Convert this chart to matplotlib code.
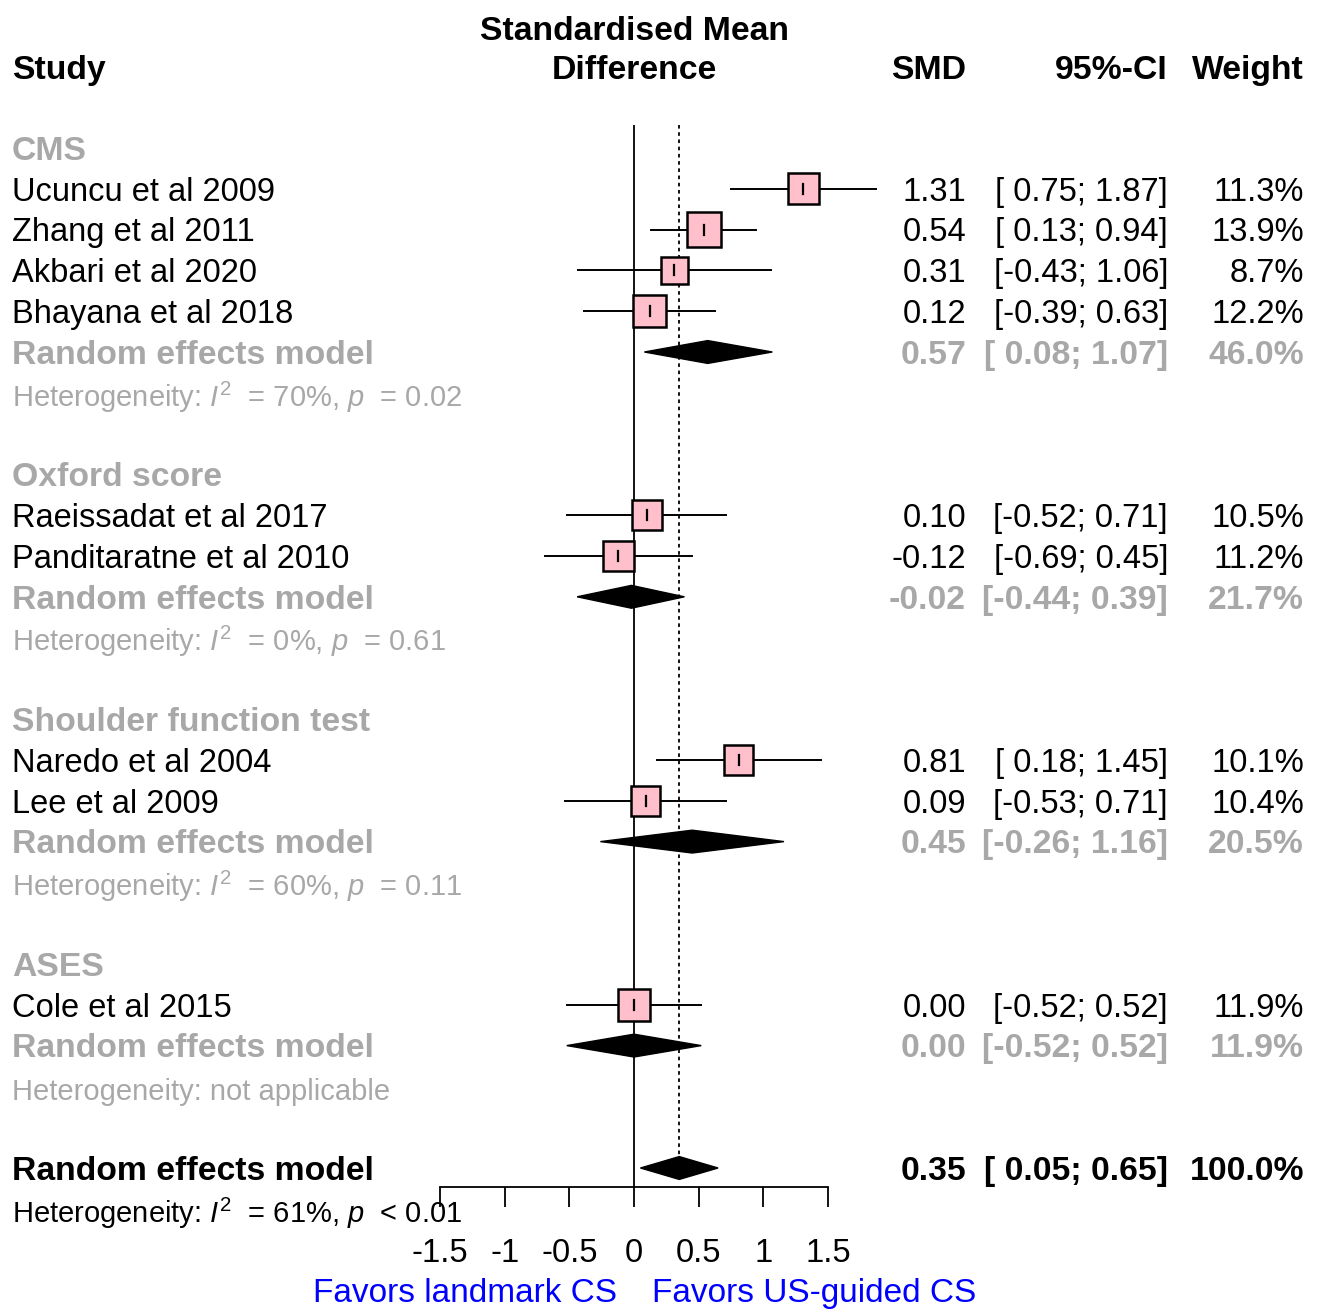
import numpy as np
import matplotlib.pyplot as plt
from matplotlib.patches import Rectangle, Polygon
from matplotlib.transforms import blended_transform_factory

plt.rcParams['font.family'] = 'Liberation Sans'
plt.rcParams['mathtext.fontset'] = 'custom'
plt.rcParams['mathtext.rm'] = 'Liberation Sans'
plt.rcParams['mathtext.it'] = 'Liberation Sans:italic'
plt.rcParams['axes.unicode_minus'] = False

# study level data
groups = ["CMS", "Oxford score", "Shoulder function test", "ASES"]
study = ["Ucuncu et al 2009", "Zhang et al 2011", "Akbari et al 2020", "Bhayana et al 2018",
         "Raeissadat et al 2017", "Panditaratne et al 2010",
         "Naredo et al 2004", "Lee et al 2009",
         "Cole et al 2015"]
study_group = [0, 0, 0, 0, 1, 1, 2, 2, 3]
smd = [1.31, 0.54, 0.31, 0.12, 0.10, -0.12, 0.81, 0.09, 0.00]
ci_lo = [0.75, 0.13, -0.43, -0.39, -0.52, -0.69, 0.18, -0.53, -0.52]
ci_hi = [1.87, 0.94, 1.06, 0.63, 0.71, 0.45, 1.45, 0.71, 0.52]
weight = [11.3, 13.9, 8.7, 12.2, 10.5, 11.2, 10.1, 10.4, 11.9]

# subgroup random effects
grp_smd = [0.57, -0.02, 0.45, 0.00]
grp_lo = [0.08, -0.44, -0.26, -0.52]
grp_hi = [1.07, 0.39, 1.16, 0.52]
grp_wt = [46.0, 21.7, 20.5, 11.9]
grp_i2 = ["70%", "0%", "60%", None]
grp_p = ["= 0.02", "= 0.61", "= 0.11", None]

# overall
all_smd, all_lo, all_hi, all_wt = 0.35, 0.05, 0.65, 100.0
all_i2, all_p = "61%", "< 0.01"

xticks = [-1.5, -1, -0.5, 0, 0.5, 1, 1.5]
xticklabels = ["-1.5", "-1", "-0.5", "0", "0.5", "1", "1.5"]

GREY = '#A8A8A8'
FS = 23.5
FS_B = 24.3
FS_HET = 21

fig = plt.figure(figsize=(13.2, 13.09), dpi=100)
ax = fig.add_axes([0, (1309 - 1187) / 1309, 1, 1187 / 1309])
ax.set_xlim(-634 / 129.3, (1320 - 634) / 129.3)
ax.set_ylim((1187 - 148) / 40.8, -148 / 40.8)
pxx = 1 / 129.3   # data units per pixel, x
pxy = 1 / 40.8    # rows per pixel, y

tr = blended_transform_factory(ax.transAxes, ax.transData)
X_STUDY, X_SMD, X_CI, X_W = 12 / 1320, 966 / 1320, 1168 / 1320, 1304 / 1320


def row_text(row, label, est, lo, hi, w, color='black', bold=False):
    fw = 'bold' if bold else 'normal'
    fs = FS_B if bold else FS
    y = row + 0.29
    ax.text(X_STUDY, y, label, transform=tr, fontsize=fs, color=color, fontweight=fw)
    ax.text(X_SMD, y, f"{est:.2f}", transform=tr, fontsize=fs, color=color, fontweight=fw, ha='right')
    ax.text(X_CI, y, f"[{lo:5.2f}; {hi:.2f}]", transform=tr, fontsize=fs, color=color, fontweight=fw, ha='right')
    ax.text(X_W, y, f"{w:.1f}%", transform=tr, fontsize=fs, color=color, fontweight=fw, ha='right')


def het_text(row, i2, p, color):
    if i2 is None:
        s = "Heterogeneity: not applicable"
    else:
        s = "Heterogeneity: $\\mathit{I}^{2}$  = " + i2 + ", $\\mathit{p}$  " + p
    ax.text(X_STUDY, row + 0.34, s, transform=tr, fontsize=FS_HET, color=color)


def diamond(row, est, lo, hi):
    h = 0.28
    ax.add_patch(Polygon([[lo, row], [est, row - h], [hi, row], [est, row + h]],
                         closed=True, facecolor='black', edgecolor='black', lw=1))


# headers
ax.text(X_STUDY, -1.68, "Study", transform=tr, fontsize=FS_B, fontweight='bold')
ax.text(0, -2.65, "Standardised Mean", fontsize=FS_B, fontweight='bold', ha='center')
ax.text(0, -1.68, "Difference", fontsize=FS_B, fontweight='bold', ha='center')
ax.text(X_SMD, -1.68, "SMD", transform=tr, fontsize=FS_B, fontweight='bold', ha='right')
ax.text(X_CI, -1.68, "95%-CI", transform=tr, fontsize=FS_B, fontweight='bold', ha='right')
ax.text(X_W, -1.68, "Weight", transform=tr, fontsize=FS_B, fontweight='bold', ha='right')

row = 0
for g, name in enumerate(groups):
    ax.text(X_STUDY, row + 0.29, name, transform=tr, fontsize=FS_B, color=GREY, fontweight='bold')
    row += 1
    for i in range(len(study)):
        if study_group[i] != g:
            continue
        ax.plot([ci_lo[i], ci_hi[i]], [row, row], color='black', lw=1.4, zorder=2)
        side = 9.2 * np.sqrt(weight[i])
        ax.add_patch(Rectangle((smd[i] - side * pxx / 2, row - side * pxy / 2),
                               side * pxx, side * pxy, facecolor='#FFC0CB',
                               edgecolor='black', lw=1.8, zorder=3))
        ax.plot([smd[i], smd[i]], [row - 5 * pxy, row + 5 * pxy], color='black', lw=1.6, zorder=4)
        row_text(row, study[i], smd[i], ci_lo[i], ci_hi[i], weight[i])
        row += 1
    diamond(row, grp_smd[g], grp_lo[g], grp_hi[g])
    row_text(row, "Random effects model", grp_smd[g], grp_lo[g], grp_hi[g], grp_wt[g],
             color=GREY, bold=True)
    row += 1
    het_text(row, grp_i2[g], grp_p[g], GREY)
    row += 2

diamond(row, all_smd, all_lo, all_hi)
row_text(row, "Random effects model", all_smd, all_lo, all_hi, all_wt, bold=True)
het_text(row + 1, all_i2, all_p, 'black')

# reference lines
ax.vlines(0, -0.56, ax.get_ylim()[0], color='black', lw=1.3, zorder=1)
ax.vlines(all_smd, -0.56, row - 0.28, color='black', lw=1.3, linestyles=(0, (2, 2)), zorder=1)

# x axis
for s in ['top', 'left', 'right']:
    ax.spines[s].set_visible(False)
ax.spines['bottom'].set_bounds(xticks[0], xticks[-1])
ax.spines['bottom'].set_linewidth(1.3)
ax.set_yticks([])
ax.set_xticks(xticks)
ax.set_xticklabels(xticklabels)
ax.tick_params(axis='x', direction='out', length=14.4, width=1.3, labelsize=FS, pad=22)

ax.text(-17 * pxx, 28.28, "Favors landmark CS", fontsize=24, color='#0000FF', ha='right')
ax.text(18 * pxx, 28.28, "Favors US-guided CS", fontsize=24, color='#0000FF', ha='left')

fig.savefig('out.png', dpi=100)
